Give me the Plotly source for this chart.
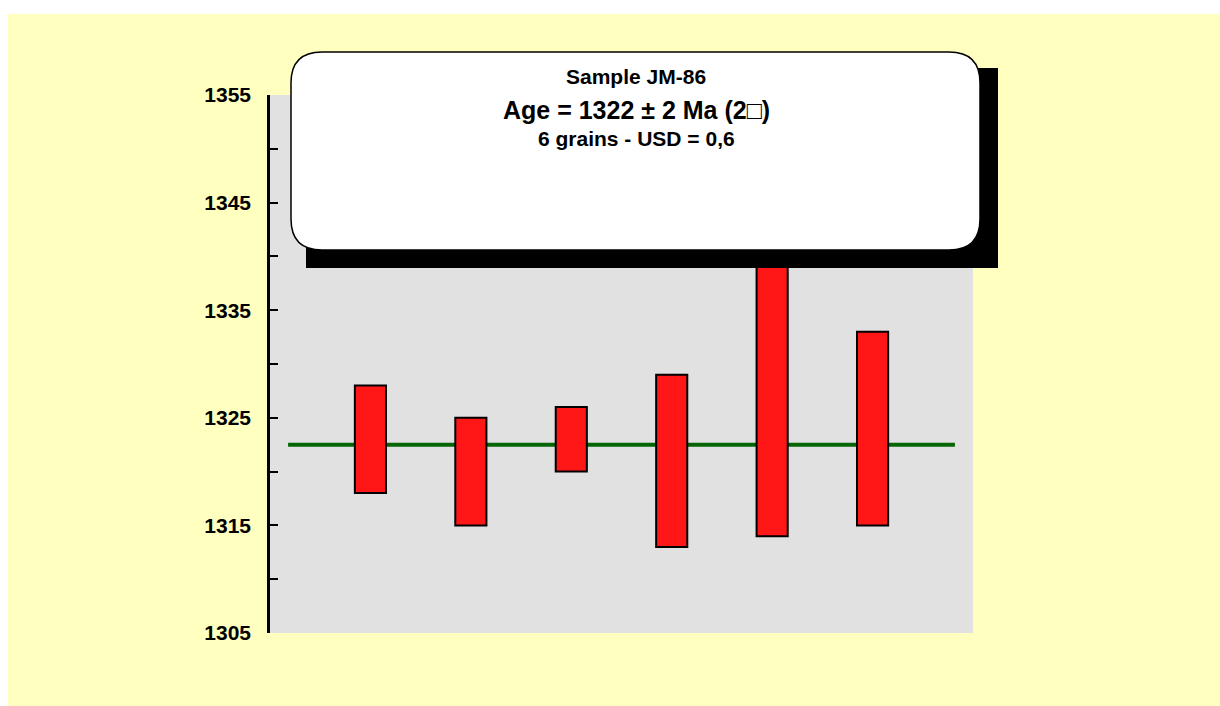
import plotly.graph_objects as go

# Grain ages (Ma) with 2-sigma errors
grains = [1, 2, 3, 4, 5, 6]
ages = [1323, 1320, 1323, 1321, 1332, 1324]
errors_2s = [5, 5, 3, 8, 18, 9]
mean_age = 1322.5
y_ticks = [1305, 1315, 1325, 1335, 1345, 1355]
y_minor = [1310, 1320, 1330, 1340, 1350]

title_lines = ["Sample JM-86", "Age = 1322 ± 2 Ma (2\u25a1)", "6 grains - USD = 0,6"]

W, H = 1220, 706
ML, MR, MT, MB = 270, 247, 95, 73
PW, PH = W - ML - MR, H - MT - MB


def px(x):
    return (x - ML) / PW


def py(y):
    return 1 - (y - MT) / PH


lows = [a - e for a, e in zip(ages, errors_2s)]
spans = [2 * e for e in errors_2s]

FONT = "Arial, 'Liberation Sans', sans-serif"

fig = go.Figure()
fig.add_trace(go.Bar(
    x=grains, y=spans, base=lows, width=0.31,
    marker=dict(color="#ff1616", line=dict(color="black", width=2)),
    hoverinfo="skip", showlegend=False,
))

shapes = [
    # white page strips around the yellow chart area
    dict(type="rect", xref="paper", yref="paper", layer="below",
         x0=px(-5), x1=px(W + 5), y0=py(14), y1=py(-5),
         fillcolor="white", line=dict(width=0)),
    dict(type="rect", xref="paper", yref="paper", layer="below",
         x0=px(-5), x1=px(8), y0=py(H + 5), y1=py(-5),
         fillcolor="white", line=dict(width=0)),
    # weighted mean line
    dict(type="line", xref="x", yref="y", layer="below",
         x0=0.18, x1=6.82, y0=mean_age, y1=mean_age,
         line=dict(color="#066606", width=4)),
    # label box shadow
    dict(type="rect", xref="paper", yref="paper", layer="above",
         x0=px(306), x1=px(998), y0=py(268), y1=py(68),
         fillcolor="black", line=dict(width=0)),
]

# rounded label box
bx0, bx1, by0, by1, r = 291, 980, 52, 250, 31
path = (
    f"M {px(bx0 + r)} {py(by0)} L {px(bx1 - r)} {py(by0)} "
    f"Q {px(bx1)} {py(by0)} {px(bx1)} {py(by0 + r)} "
    f"L {px(bx1)} {py(by1 - r)} "
    f"Q {px(bx1)} {py(by1)} {px(bx1 - r)} {py(by1)} "
    f"L {px(bx0 + r)} {py(by1)} "
    f"Q {px(bx0)} {py(by1)} {px(bx0)} {py(by1 - r)} "
    f"L {px(bx0)} {py(by0 + r)} "
    f"Q {px(bx0)} {py(by0)} {px(bx0 + r)} {py(by0)} Z"
)
shapes.append(dict(type="path", xref="paper", yref="paper", layer="above",
                   path=path, fillcolor="white",
                   line=dict(color="black", width=1.5)))

annotations = []
for text, yc, size in zip(title_lines, [76, 110, 138], [21, 25, 21]):
    annotations.append(dict(
        text=text, xref="paper", yref="paper", x=px(636), y=py(yc),
        xanchor="center", yanchor="middle", showarrow=False,
        font=dict(family=FONT, size=size, color="black", weight="bold"),
    ))

fig.update_layout(
    width=W, height=H,
    margin=dict(l=ML, r=MR, t=MT, b=MB, pad=0),
    paper_bgcolor="#ffffc0",
    plot_bgcolor="#e1e1e1",
    shapes=shapes,
    annotations=annotations,
    showlegend=False,
    xaxis=dict(range=[0, 7], visible=False, fixedrange=True),
    yaxis=dict(
        range=[1305, 1355], tickvals=y_ticks, ticktext=[str(v) for v in y_ticks],
        showgrid=False, zeroline=False,
        showline=True, linecolor="black", linewidth=2.5,
        ticks="inside", ticklen=8, tickwidth=2, tickcolor="black",
        minor=dict(tickvals=y_minor, ticks="inside", ticklen=8,
                   tickwidth=2, tickcolor="black", showgrid=False),
        tickfont=dict(family=FONT, size=21, color="black", weight="bold"),
        ticklabelstandoff=12,
        fixedrange=True,
    ),
)

fig.write_html("out.html")
